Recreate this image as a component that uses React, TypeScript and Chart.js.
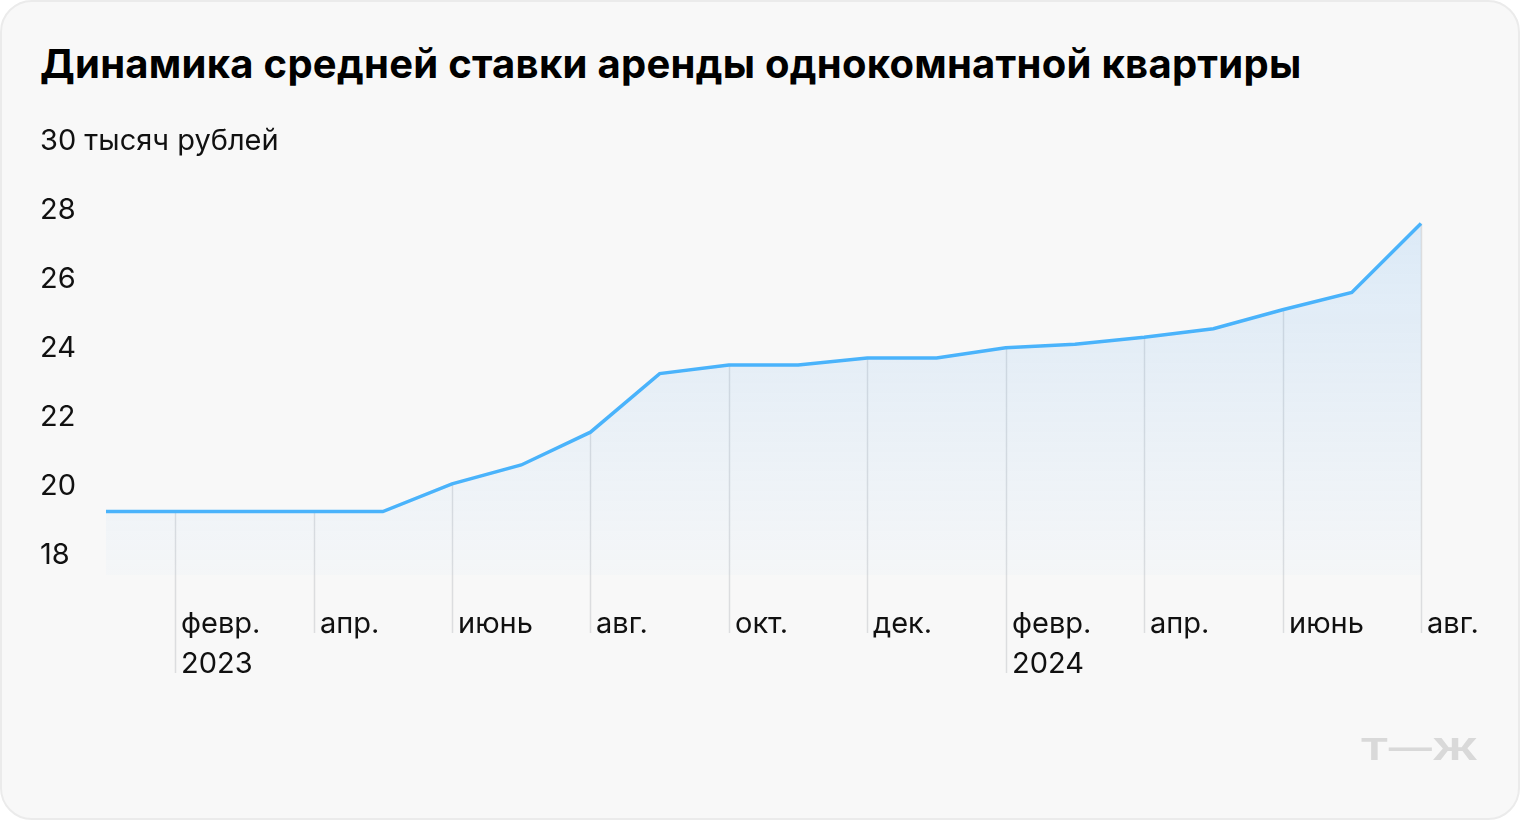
import React, { useEffect, useRef } from "react";
import { Chart, registerables } from "chart.js";

Chart.register(...registerables);

const TITLE = "Динамика средней ставки аренды однокомнатной квартиры";
const months = [
  "янв. 2023", "февр. 2023", "март 2023", "апр. 2023", "май 2023", "июнь 2023", "июль 2023", "авг. 2023",
  "сент. 2023", "окт. 2023", "нояб. 2023", "дек. 2023", "янв. 2024", "февр. 2024", "март 2024",
  "апр. 2024", "май 2024", "июнь 2024", "июль 2024", "авг. 2024",
];
const rent = [19.2, 19.2, 19.2, 19.2, 19.2, 20.0, 20.55, 21.5, 23.2, 23.45, 23.45, 23.65, 23.65, 23.95, 24.05, 24.25, 24.5, 25.05, 25.55, 27.55];
const xTickLabels: (string[] | null)[] = [
  null, ["февр.", "2023"], null, ["апр."], null, ["июнь"], null, ["авг."], null, ["окт."], null, ["дек."],
  null, ["февр.", "2024"], null, ["апр."], null, ["июнь"], null, ["авг."],
];
const yTicks = [18, 20, 22, 24, 26, 28, 30];
const yTickLabels = ["18", "20", "22", "24", "26", "28", "30 тысяч рублей"];

const FONT = "Inter, 'Noto Sans', sans-serif";

const decor = {
  id: "decor",
  beforeDatasetsDraw(chart: any) {
    const { ctx } = chart;
    const xs = chart.scales.x;
    const ys = chart.scales.y;
    ctx.save();
    ctx.strokeStyle = "#dcdddf";
    ctx.lineWidth = 1.5;
    xTickLabels.forEach((lbl, i) => {
      if (!lbl) return;
      const px = Math.round(xs.getPixelForValue(i)) + 0.5;
      const top = ys.getPixelForValue(rent[i]);
      const bottom = 633 + (lbl.length - 1) * 40;
      ctx.beginPath();
      ctx.moveTo(px, top);
      ctx.lineTo(px, bottom);
      ctx.stroke();
    });
    ctx.restore();
  },
  afterDraw(chart: any) {
    const { ctx } = chart;
    const xs = chart.scales.x;
    const ys = chart.scales.y;
    ctx.save();
    ctx.fillStyle = "#111";
    ctx.font = `400 29px ${FONT}`;
    ctx.textAlign = "left";
    ctx.textBaseline = "middle";
    yTicks.forEach((v, i) => {
      ctx.fillText(yTickLabels[i], 40, ys.getPixelForValue(v) + 2);
    });
    ctx.textBaseline = "alphabetic";
    xTickLabels.forEach((lbl, i) => {
      if (!lbl) return;
      const px = Math.round(xs.getPixelForValue(i)) + 6;
      lbl.forEach((t, j) => ctx.fillText(t, px, 633 + j * 40));
    });
    // watermark
    ctx.fillStyle = "#d9d9d9";
    ctx.font = `700 30px ${FONT}`;
    const wm = "Т—Ж";
    const w = ctx.measureText(wm).width;
    ctx.translate(1360, 760);
    ctx.scale(118 / w, 1);
    ctx.fillText(wm, 0, 0);
    ctx.restore();
  },
};

export default function App() {
  const ref = useRef<HTMLCanvasElement>(null);
  useEffect(() => {
    document.body.style.margin = "0";
    const canvas = ref.current!;
    const chart = new Chart(canvas, {
      type: "line",
      data: {
        labels: months,
        datasets: [
          {
            data: rent,
            borderColor: "#4ab3fb",
            borderWidth: 3.5,
            pointRadius: 0,
            tension: 0,
            fill: "start",
            backgroundColor: (c: any) => {
              const area = c.chart.chartArea;
              if (!area) return "rgba(74,179,251,0.1)";
              const g = c.chart.ctx.createLinearGradient(0, 220, 0, area.bottom);
              g.addColorStop(0, "rgba(74,160,240,0.16)");
              g.addColorStop(1, "rgba(74,160,240,0.02)");
              return g;
            },
          },
        ],
      },
      options: {
        animation: false,
        responsive: false,
        maintainAspectRatio: false,
        layout: { padding: { left: 106, right: 99, top: 139, bottom: 245 } },
        plugins: { legend: { display: false }, tooltip: { enabled: false } },
        scales: {
          x: { display: false, offset: false },
          y: { display: false, min: 17.36, max: 30 },
        },
      },
      plugins: [decor],
    });
    return () => chart.destroy();
  }, []);
  return (
    <div
      style={{
        position: "relative",
        width: 1520,
        height: 820,
        boxSizing: "border-box",
        background: "#f8f8f8",
        border: "2px solid #ebebeb",
        borderRadius: 32,
        overflow: "hidden",
      }}
    >
      <div
        style={{
          position: "absolute",
          left: 38,
          top: 38,
          fontFamily: FONT,
          fontWeight: 700,
          fontSize: 40,
          letterSpacing: "0.27px",
          lineHeight: "48px",
          color: "#000",
          whiteSpace: "nowrap",
        }}
      >
        {TITLE}
      </div>
      <canvas ref={ref} width={1520} height={820} style={{ position: "absolute", left: -2, top: -2, width: 1520, height: 820 }} />
    </div>
  );
}
